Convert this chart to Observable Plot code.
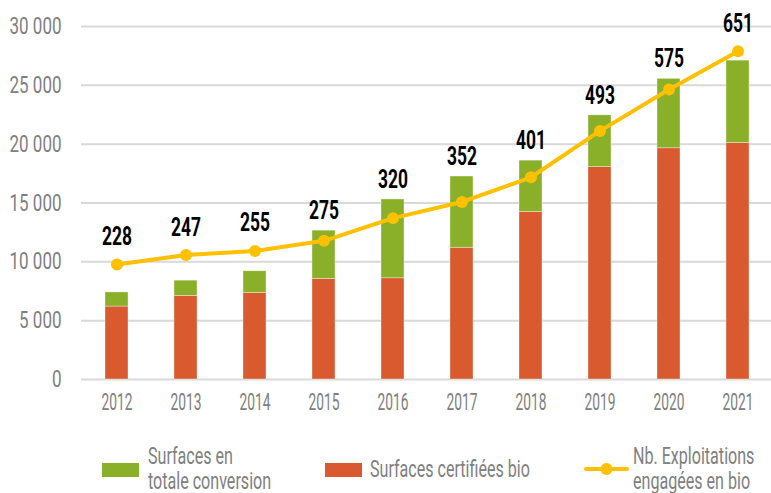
<!DOCTYPE html>
<html>
<head>
<meta charset="utf-8">
<script src="https://cdn.jsdelivr.net/npm/d3@7"></script>
<script src="https://cdn.jsdelivr.net/npm/@observablehq/plot@0.6"></script>
<style>
  html, body { margin: 0; padding: 0; background: #fff; overflow: hidden; }
  #wrap { width: 771px; height: 493px; }
  #chart svg, #legend svg { display: block; }
</style>
</head>
<body>
<div id="wrap">
  <div id="chart"></div>
  <div id="legend"></div>
</div>
<script>
const years = [2012, 2013, 2014, 2015, 2016, 2017, 2018, 2019, 2020, 2021];
const certifiees = [6200, 7100, 7350, 8550, 8600, 11200, 14250, 18050, 19650, 20100];
const conversion = [1200, 1300, 1850, 4100, 6700, 6050, 4350, 4400, 5900, 7000];
const exploitations = [228, 247, 255, 275, 320, 352, 401, 493, 575, 651];
const yTicks = [0, 5000, 10000, 15000, 20000, 25000, 30000];
const seriesNames = ["Surfaces certifiées bio", "Surfaces en totale conversion"];
const seriesColors = ["#DA5A2F", "#8AB02A"];
const legendLabels = [["Surfaces en", "totale conversion"], ["Surfaces certifiées bio"], ["Nb. Exploitations", "engagées en bio"]];
const lineColor = "#FFC000";
const leftMax = 30000, rightMax = 700;

const FONT = "Roboto, 'Liberation Sans', sans-serif";
const GRAY = "#808080";

const bars = [];
years.forEach((yr, i) => {
  bars.push({year: yr, series: seriesNames[0], value: certifiees[i]});
  bars.push({year: yr, series: seriesNames[1], value: conversion[i]});
});
const pts = years.map((yr, i) => ({year: yr, n: exploitations[i], total: certifiees[i] + conversion[i]}));
const toLeft = d => d.n * leftMax / rightMax;
// data label sits above whichever is higher: the point or the bar top
const labelY = d => Math.max(toLeft(d) + 1650, d.total + 1000);
const fmt = d => d3.format(",")(d).replace(/,/g, " ");

const chart = Plot.plot({
  width: 771,
  height: 430,
  marginLeft: 81,
  marginRight: -3,
  marginTop: 26,
  marginBottom: 51,
  style: {fontFamily: FONT, background: "#fff"},
  x: {type: "band", domain: years, paddingInner: 0.66, paddingOuter: 0.33, label: null},
  y: {domain: [0, leftMax], label: null},
  color: {domain: seriesNames, range: seriesColors},
  marks: [
    Plot.ruleY(yTicks, {stroke: "#d9d9d9", strokeWidth: 2}),
    Plot.barY(bars, {x: "year", y: "value", fill: "series", order: seriesNames, stroke: "#fff", strokeWidth: 0.6, strokeOpacity: 0.6}),
    Plot.axisY(yTicks, {tickSize: 0, tickPadding: 20, tickFormat: fmt, fontSize: 23.5, fill: GRAY, label: null}),
    Plot.axisX({tickSize: 0, tickPadding: 14, fontSize: 23.5, fill: GRAY, label: null, tickFormat: d => String(d)}),
    Plot.line(pts, {x: "year", y: toLeft, stroke: lineColor, strokeWidth: 4}),
    Plot.dot(pts, {x: "year", y: toLeft, r: 6, fill: lineColor}),
    Plot.text(pts, {x: "year", y: labelY, text: d => String(d.n), lineAnchor: "bottom", fontSize: 25, fontWeight: "bold", fill: "#000"})
  ]
});
document.getElementById("chart").appendChild(chart);

// The reference uses a very narrow typeface: condense texts horizontally,
// one uniform factor per text family, derived from a sample string's width.
function condense(sel, sampleText, targetWidth) {
  const nodes = sel.nodes();
  const sample = nodes.find(n => n.textContent === sampleText) || nodes[0];
  if (!sample) return;
  const w = sample.getComputedTextLength();
  const s = w > 0 ? targetWidth / w : 0.7;
  sel.each(function() {
    const t = d3.select(this);
    t.attr("transform", (t.attr("transform") || "") + ` scale(${s},1)`);
  });
}
const allText = d3.select(chart).selectAll("text");
condense(allText.filter(function() { return /^\d{4}$/.test(this.textContent); }), "2012", 31);
condense(allText.filter(function() { return this.textContent === "0" || / /.test(this.textContent); }), "30 000", 52);
condense(allText.filter(function() { return /^\d{3}$/.test(this.textContent); }), "228", 30);

// legend (svg below the chart)
const lg = d3.select("#legend").append("svg").attr("width", 771).attr("height", 63)
  .style("font-family", FONT).style("font-size", "23.5px").style("overflow", "visible");
lg.append("rect").attr("x", 102).attr("y", 33).attr("width", 37).attr("height", 14).attr("fill", seriesColors[1]);
lg.append("rect").attr("x", 325).attr("y", 33).attr("width", 37).attr("height", 14).attr("fill", seriesColors[0]);
lg.append("line").attr("x1", 586).attr("x2", 627).attr("y1", 39).attr("y2", 39)
  .attr("stroke", lineColor).attr("stroke-width", 4).attr("stroke-linecap", "round");
lg.append("circle").attr("cx", 606.5).attr("cy", 39).attr("r", 6).attr("fill", lineColor);
const legendPos = [{x: 148, y: [34.3, 59.3]}, {x: 370, y: [46.7]}, {x: 633, y: [34.3, 59.3]}];
legendLabels.forEach((lines, i) => {
  lines.forEach((line, j) => {
    lg.append("text").attr("x", legendPos[i].x).attr("y", legendPos[i].y[j]).attr("fill", GRAY).text(line);
  });
});
const lgText = lg.selectAll("text");
const sampleNode = lgText.nodes().find(n => n.textContent === "Surfaces certifiées bio");
const ls = 160 / sampleNode.getComputedTextLength();
lgText.each(function() {
  const t = d3.select(this);
  const x = +t.attr("x");
  t.attr("transform", `translate(${x},0) scale(${ls},1) translate(${-x},0)`);
});
</script>
</body>
</html>
